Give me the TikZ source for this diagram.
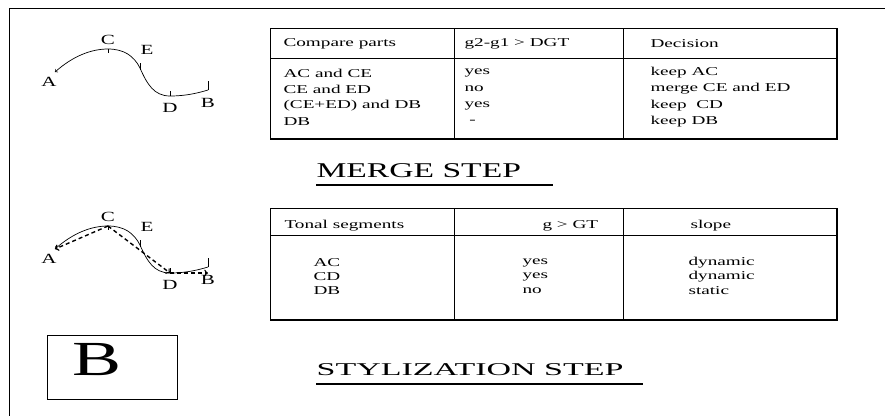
\documentclass[tikz,border=0pt]{standalone}
\usepackage{fontspec}
\setmainfont{Liberation Serif}

\tikzset{
  cell/.style={anchor=west, inner sep=0pt, font=\fontsize{12}{14}\selectfont, xscale=1.6},
  pointlbl/.style={inner sep=0pt, font=\fontsize{14}{16}\selectfont, xscale=1.5},
  steptitle/.style={anchor=base west, inner sep=0pt, xscale=1.6},
  stylized/.style={line width=1.4pt, dash pattern=on 4pt off 3pt},
}

\begin{document}
\begin{tikzpicture}[x=1pt,y=-1pt,line width=0.7pt]
  \useasboundingbox (0,0) rectangle (885,416);
  \draw (885,8)--(9,8)--(9,416);

  % pitch contour, once for each step
  \foreach \dy/\k in {0/m,177/s} {
    \begin{scope}[shift={(0,\dy)}]
      \coordinate (A\k) at (55,72);
      \coordinate (C\k) at (108,49);
      \coordinate (E\k) at (140,68);
      \coordinate (D\k) at (170,96);
      \coordinate (B\k) at (208,90);
      \draw[<-] (A\k) .. controls +(17,-15) and +(-18,0) .. (C\k)
        .. controls +(16,0) and +(-6,-12) .. (E\k)
        .. controls +(7,16) and +(-16,0) .. (D\k)
        .. controls +(16,0) and +(-10,3) .. (B\k);
      \draw (C\k)--++(0,4);
      \draw (E\k)++(0,-5)--++(0,7);
      \draw (D\k)--++(0,-5);
      \draw (B\k)--++(0,-9);
      \node[pointlbl] (la\k) at (49,82) {A};
      \node[pointlbl] (lc\k) at (108,40) {C};
      \node[pointlbl] (le\k) at (147,50) {E};
      \node[pointlbl] (ld\k) at (170,108) {D};
      \node[pointlbl] (lb\k) at (208,103) {B};
    \end{scope}
  }

  % stylized segments
  \draw[stylized,->] (Cs)--(As);
  \draw[stylized,->] (Cs)--(Ds);
  \draw[stylized,->] (Ds)--(Ds-|Bs);

  % merge table
  \draw (837,28)--(270,28)--(270,139);
  \draw[line width=1.2pt] (270,139)--(837,139)--(837,28);
  \draw (270,58)--(837,58);
  \draw (454,28)--(454,139) (623,28)--(623,139);
  \node[cell] (mh1) at (283,44) {Compare parts};
  \node[cell] (mh2) at (464,44) {g2-g1 > DGT};
  \node[cell] (mh3) at (650,44) {Decision};
  \foreach \y/\p/\g/\d in {73/AC and CE/yes/keep AC,
      89/CE and ED/no/merge CE and ED,
      106/(CE+ED) and DB/yes/keep \ CD,
      122/DB/\ -/keep DB} {
    \node[cell] (mp\y) at (283,\y) {\p};
    \node[cell] (mg\y) at (464,\y) {\g};
    \node[cell] (md\y) at (650,\y) {\d};
  }

  \node[steptitle, font=\fontsize{21}{25}\selectfont] (merge) at (316,177) {MERGE STEP};
  \draw[line width=1.3pt] (316,185)--(553,185);

  % stylization table
  \draw (837,208)--(270,208)--(270,320);
  \draw[line width=1.2pt] (270,320)--(837,320)--(837,208);
  \draw (270,235)--(837,235);
  \draw (454,208)--(454,320) (623,208)--(623,320);
  \node[cell] (sh1) at (284,226) {Tonal segments};
  \node[cell] (sh2) at (542,226) {g > GT};
  \node[cell] (sh3) at (690,226) {slope};
  \foreach \y/\p/\g/\d in {263/AC/yes/dynamic, 277/CD/yes/dynamic, 291/DB/no/static} {
    \node[cell] (sp\y) at (313,\y) {\p};
    \node[cell] (sg\y) at (522,\y) {\g};
    \node[cell] (sd\y) at (688,\y) {\d};
  }

  \node[steptitle, font=\fontsize{18}{22}\selectfont, xscale=1.18] (stylize) at (316,375) {STYLIZATION STEP};
  \draw[line width=1.3pt] (316,384)--(643,384);

  \draw[line width=0.8pt] (47,335) rectangle (177,399);
  \node[anchor=base, inner sep=0pt, font=\fontsize{49}{55}\selectfont, xscale=1.5] (panel) at (97,375) {B};
\end{tikzpicture}
\end{document}
